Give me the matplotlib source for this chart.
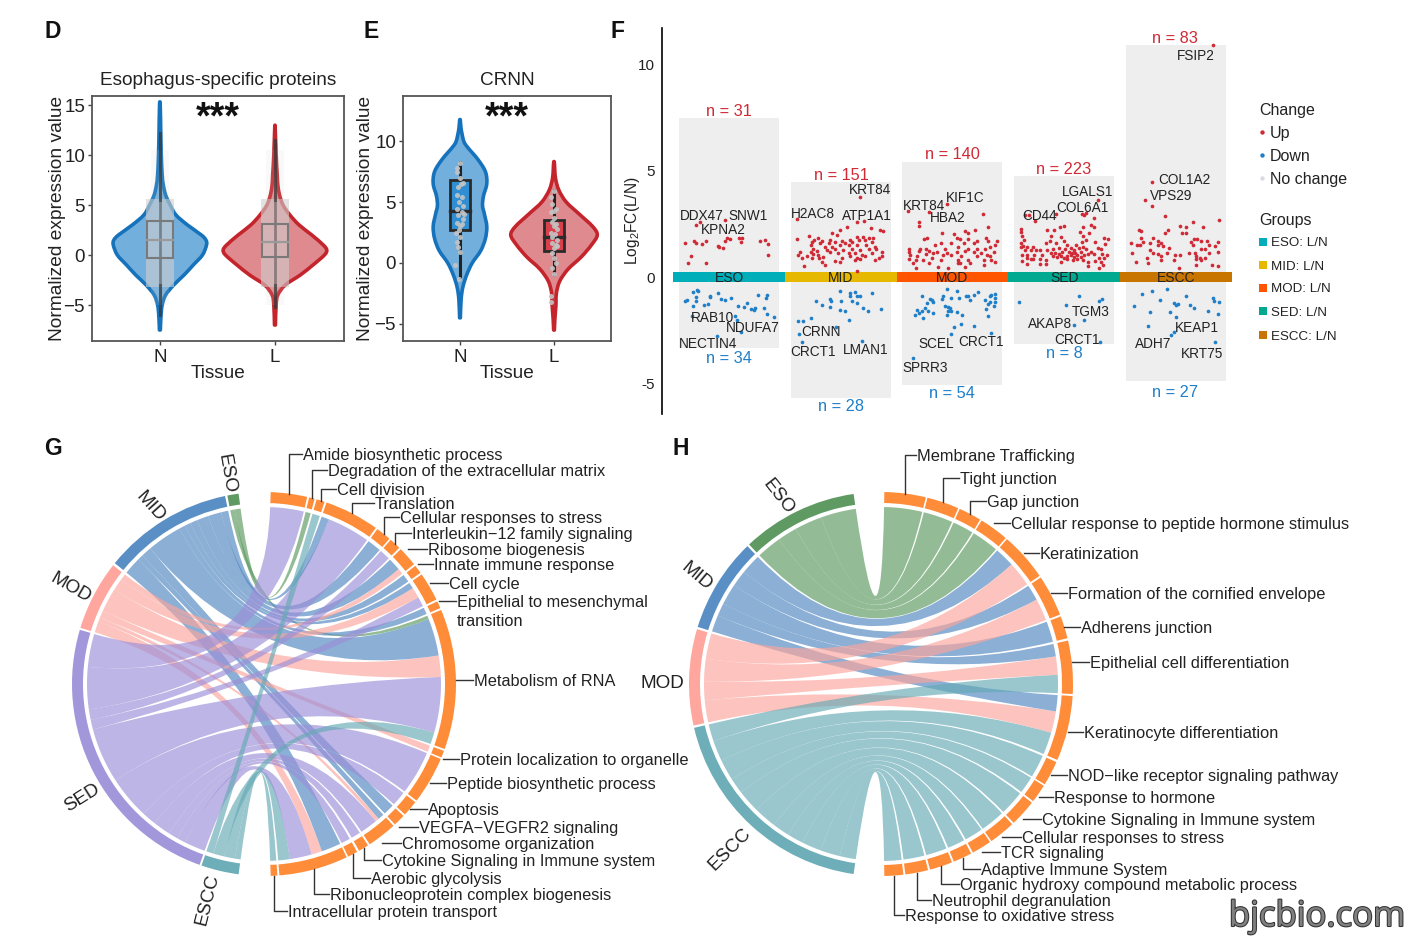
import numpy as np
import matplotlib
matplotlib.use("Agg")
import matplotlib.pyplot as plt
from matplotlib.path import Path
from matplotlib.patches import PathPatch, Wedge, Rectangle
import matplotlib.patheffects as pe

plt.rcParams['font.family'] = ['Liberation Sans', 'DejaVu Sans']
plt.rcParams['mathtext.default'] = 'regular'
W, H = 1415, 942
TXT = '#222222'
DY = 1.5  # text centre offset

# ---------- Panel D / E data ----------
d_n_y = [-7.5,-6,-5,-4,-3,-2,-1,0,1,1.5,2,3,4,5,6,7,8,10,12,15]
d_n_w = [.004,.01,.02,.05,.12,.21,.29,.37,.405,.40,.36,.24,.14,.09,.05,.03,.02,.012,.008,.003]
d_l_y = [-7,-5,-4,-3,-2,-1,0,.5,1,2,3,4,5,6,7,8,10,12.7]
d_l_w = [.004,.01,.025,.09,.22,.33,.43,.45,.42,.32,.21,.13,.07,.04,.025,.02,.01,.002]
e_n_y = [-4.5,-3,-2,-1,0,1,2,3,4,4.7,5.5,6.5,7.5,8.5,9.5,10,11,11.7]
e_n_w = [.004,.012,.03,.07,.13,.22,.27,.285,.26,.24,.25,.285,.27,.19,.08,.04,.012,.004]
e_l_y = [-5.5,-4.5,-3.5,-2.5,-1.5,-.5,.5,1.5,2.3,3,4,5,6,7,8.2]
e_l_w = [.004,.01,.02,.025,.06,.15,.29,.40,.46,.41,.27,.13,.05,.015,.004]
d_box = {'N': (-0.3, 1.5, 3.4, -6.0, 12.2), 'L': (-0.2, 1.3, 3.1, -5.2, 11.5)}
e_box = {'N': (2.7, 4.3, 6.8, -1.2, 8.3), 'L': (1.0, 2.1, 3.5, -1.0, 6.0)}
e_n_dots = [(0,8.2),(-.03,7.8),(-.03,7.5),(0,7),(.01,6.5),(.03,6.6),(-.02,6.2),(-.03,5.6),(.02,5.4),(-.01,5),
            (.03,4.7),(-.03,4.4),(.02,4.2),(-.02,3.9),(.03,3.6),(-.03,3.3),(0,3),(-.01,2.7),(-.04,2.5),(0,2.1),
            (-.03,1.7),(-.02,1.3),(0,.9),(-.05,-.2),(-.01,-1.3),(.04,4),(.02,3.2)]
e_l_dots = [(0,5.9),(-.03,5.4),(-.02,4.8),(0,4.3),(-.03,4.2),(.02,4.4),(0,3.7),(-.02,3.4),(.02,3.2),(0,3),
            (.03,2.8),(-.03,2.5),(.01,2.4),(-.02,2.1),(.03,1.9),(-.02,1.6),(.02,1.5),(0,1.2),(.03,1.4),(-.02,.8),
            (0,.4),(.02,0),(-.02,-.4),(0,-.9),(-.03,-2.7),(-.03,-3.2)]

# ---------- Panel F data ----------
f_groups = ['ESO','MID','MOD','SED','ESCC']
f_band_colors = ['#00aeba','#e6b800','#ff5500','#00a98f','#c87500']
f_top = [7.45,4.45,5.4,4.75,10.9]
f_bot = [-3.35,-5.7,-5.05,-3.15,-4.9]
eso_up = [(-.39,1.61),(-.31,1.69),(-.30,1.58),(-.30,2.47),(-.26,2.58),(-.24,1.55),(-.21,1.69),(-.04,2.69),(-.02,1.86),(-.04,1.70),
          (.01,1.80),(-.10,1.45),(-.09,1.42),(-.05,1.36),(.09,1.86),(.12,1.86),(.11,1.63),(.28,1.70),(.32,1.73),(.35,1.55),
          (.35,1.06),(-.34,1.0),(-.37,.64),(-.21,.64)]
mid_up = [(.17,3.77),(-.39,2.75),(.15,2.59),(.21,2.64),(.06,2.36),(.27,2.31),(.35,2.2),(.38,2.17),(-.01,2.2),(-.03,2.0),
          (-.08,2.05),(-.28,1.92),(-.39,1.81),(-.2,1.86),(-.24,1.73),(-.26,1.66),(-.17,1.7),(-.095,1.73),(.01,1.68),(.085,1.75),
          (.145,1.89),(.2,1.9),(.25,1.85),(.29,1.85),(-.27,1.5),(-.185,1.58),(-.105,1.58),(-.05,1.66),(.04,1.6),(.10,1.66),
          (.165,1.73),(.22,1.73),(.28,1.66),(-.245,1.34),(-.14,1.42),(-.08,1.42),(-.005,1.5),(.07,1.5),(.145,1.5),(.23,1.5),
          (.31,1.42),(-.36,1.19),(-.27,1.19),(-.215,1.22),(-.125,1.27),(-.055,1.3),(.025,1.27),(.10,1.31),(.17,1.27),(.25,1.3),
          (.32,1.34),(-.38,1.03),(-.30,.98),(-.245,1.08),(-.2,1.03),(-.095,1.19),(-.02,1.14),(.07,1.14),(.13,1.11),(.19,1.03),
          (.28,1.11),(.37,1.19),(-.35,.875),(-.26,.92),(-.19,.875),(-.155,.95),(.01,.875),(.085,.98),(.145,.875),(.22,.98),
          (.34,.92),(.37,.98),(-.17,.72),(-.05,.75),(-.005,.72),(.13,.8),(.17,.83),(.31,.8),(-.33,.52),(-.145,.56),(.145,.31)]
mod_up = [(-.40,3.11),(-.21,3.06),(-.05,3.42),(.27,2.98),(-.30,2.59),(-.30,2.39),(.32,2.33),(.2,2.23),(.11,2.16),(.14,2.05),
          (-.09,2.09),(.01,2.02),(.04,1.86),(.07,1.81),(-.23,1.86),(-.25,1.81),(.30,1.86),(.40,1.7),(.14,1.77),(.22,1.69),
          (.32,1.69),(-.1,1.58),(-.01,1.58),(.1,1.58),(.19,1.58),(.38,1.5),(-.16,1.5),(-.39,1.34),(-.29,1.34),(-.24,1.31),
          (-.07,1.34),(.05,1.42),(.14,1.34),(.22,1.34),(.29,1.34),(.34,1.42),(-.385,1.19),(-.3,1.22),(-.21,1.23),(-.14,1.19),
          (-.05,1.14),(.04,1.19),(.11,1.23),(.19,1.19),(.26,1.11),(.37,1.19),(-.38,1.03),(-.32,.98),(-.24,1.08),(-.17,1.11),
          (-.08,1.03),(-.01,1.03),(.08,.98),(.22,.98),(.31,1.03),(.34,.98),(-.39,.83),(-.33,.8),(-.26,.8),(-.185,.875),
          (-.1,.8),(.05,.8),(.14,.8),(.28,.8),(.35,.8),(.38,.72),(-.35,.64),(-.21,.67),(.07,.64),(.16,.64),
          (.28,.56),(-.325,.44),(-.125,.48),(-.035,.45),(.05,.67),(.11,.48)]
sed_up = [(-.35,2.94),(-.31,2.94),(-.26,2.63),(-.07,2.98),(.16,2.98),(.2,3.0),(.18,2.9),(.30,3.6),(.27,2.78),(.24,2.44),
          (0,2.41),(-.04,2.33),(-.09,2.23),(-.15,2.23),(-.39,2.28),(.17,2.33),(.27,2.36),(-.39,2.1),(-.38,1.95),(-.36,1.75),
          (-.39,1.6),(-.37,1.45),(-.39,1.4),(-.33,1.4),(-.28,1.4),(-.35,1.25),(-.3,1.25),(-.25,1.25),(-.38,1.05),(-.33,1.05),
          (-.27,1.05),(-.22,1.25),(-.2,1.05),(-.33,.9),(-.28,.85),(-.22,.85),(-.16,1.6),(-.12,1.95),(-.13,1.7),(-.07,1.6),
          (-.03,1.9),(0,1.7),(.03,1.5),(-.05,1.35),(-.1,1.3),(-.15,1.25),(-.12,1.15),(-.08,1.15),(-.05,1.1),(-.02,1.2),
          (.01,1.3),(.04,1.2),(.06,1.35),(.09,1.25),(.11,1.5),(.13,1.35),(.15,1.2),(.17,1.4),(.2,1.3),(-.1,1.0),
          (-.06,.95),(-.03,1.0),(0,.9),(.03,1.0),(.06,1.05),(.09,.95),(.12,1.05),(.15,.95),(.18,1.05),(.21,1.1),
          (.03,.85),(.08,.8),(.12,.85),(.17,.8),(.1,1.15),(.07,1.15),(.14,2.1),(.17,1.95),(.2,1.75),(.22,2.05),
          (.16,1.65),(.28,1.65),(.3,1.35),(.33,1.3),(.36,1.85),(.39,1.8),(.37,1.55),(.34,1.1),(.38,1.05),(.31,.9),
          (.36,.9),(.28,.75),(.33,.7),(.35,.55),(.31,.45),(.24,1.2),(.27,1.1),(.21,.7),(.21,.5),(-.3,.85),
          (-.38,.75),(-.33,.6),(-.22,.6),(-.16,.8),(-.03,.7),(-.16,.6)]
escc_up = [(.33,10.88),(-.21,4.47),(-.28,3.61),(-.21,3.34),(-.10,2.87),(.39,2.67),(.155,2.59),(.04,2.41),(.24,2.33),(.095,2.36),
           (-.33,2.2),(-.31,2.17),(-.07,2.23),(-.1,2.09),(.095,2.09),(.06,2.05),(-.31,1.84),(-.40,1.58),(-.35,1.5),(-.32,1.5),
           (-.29,1.66),(-.23,1.62),(-.2,1.84),(-.16,1.7),(-.13,1.62),(-.16,1.5),(-.11,1.45),(-.06,1.39),(-.39,1.14),(-.23,1.27),
           (-.2,1.14),(-.16,1.08),(-.13,1.0),(-.08,1.14),(-.01,1.06),(.04,1.06),(.12,1.14),(.14,1.66),(.16,1.81),(.19,1.81),
           (.23,1.7),(.28,1.7),(.155,1.5),(.23,1.34),(.26,1.31),(.30,1.5),(.38,1.66),(.35,1.45),(.38,1.19),(.17,1.11),
           (.30,1.11),(.185,.98),(.23,.8),(.26,.875),(.185,.83),(-.02,.8),(-.36,.72),(-.26,.875),(-.25,.67),(-.13,.8),
           (.185,.59),(.32,.59),(.38,.52),(.03,.41),(.215,.875)]
eso_dn = [(-.29,-.59),(-.28,-.67),(-.32,-.72),(-.30,-.94),(-.38,-1.06),(-.39,-1.14),(-.30,-1.14),(-.32,-1.38),(-.17,-.875),(-.17,-.94),
          (-.10,-.75),(-.07,-1.03),(-.04,-1.09),(.02,-.98),(-.22,-1.3),(-.19,-1.27),(.08,-1.38),(.13,-1.41),(.16,-1.22),(.20,-1.5),
          (.22,-1.56),(.23,-1.45),(.31,-1.45),(.34,-1.72),(.40,-1.88),(.26,-.83),(.34,-.83),(.33,-.98),(-.33,-1.81),(.05,-1.84),
          (.07,-2.0),(.11,-2.58),(-.11,-2.75)]
mid_dn = [(-.005,-.63),(.08,-.75),(.08,-.91),(.13,-.72),(.145,-.875),(.17,-.91),(.28,-.75),(-.22,-1.14),(-.17,-1.3),(-.095,-1.03),
          (-.09,-1.14),(-.10,-1.41),(0,-1.14),(.10,-1.14),(.145,-1.22),(-.01,-1.53),(.04,-1.58),(.2,-1.45),(.24,-1.61),(.36,-1.5),
          (-.38,-2.08),(-.34,-2.08),(-.27,-1.92),(.07,-2.0),(-.04,-2.34),(-.37,-2.67),(-.35,-3.05),(.19,-3.02)]
mod_dn = [(-.05,-.56),(.04,-.63),(-.275,-.875),(-.08,-.91),(-.095,-1.02),(-.01,-1.0),(.06,-1.0),(.12,-.875),(.14,-.91),(.19,-.83),
          (.23,-.72),(.35,-.83),(.38,-.78),(.34,-.875),(.29,-1.06),(.38,-.98),(-.2,-1.03),(-.185,-1.09),(-.17,-1.19),(.16,-1.09),
          (.38,-1.19),(.37,-1.38),(.34,-1.19),(.32,-1.27),(.30,-1.5),(-.245,-1.45),(-.23,-1.22),(-.32,-1.53),(-.275,-1.61),(-.335,-1.8),
          (-.30,-1.69),(-.215,-1.61),(-.17,-1.69),(-.265,-1.92),(-.07,-1.38),(-.035,-1.41),(-.02,-1.45),(-.01,-1.61),(-.05,-1.77),(-.035,-1.61),
          (.04,-1.66),(.085,-1.77),(.315,-1.84),(.075,-2.19),(.19,-2.28),(.01,-2.36),(-.01,-2.66),(.35,-2.63),(-.35,-3.8)]
sed_dn = [(-.40,-1.15),(.13,-.89),(.02,-1.33),(.31,-1.1),(.34,-1.05),(.175,-2.0),(.09,-2.23),(.32,-3.03)]
escc_dn = [(-.30,-.78),(-.21,-.66),(-.08,-.55),(-.14,-1.07),(-.37,-1.38),(-.23,-1.62),(-.25,-2.28),(-.02,-1.22),(0,-1.29),(.02,-1.26),
           (.09,-.9),(-.05,-1.62),(0,-1.88),(.13,-1.33),(.16,-1.44),(.33,-.97),(.34,-1.1),(.39,-1.18),(.29,-1.57),(.38,-1.73),
           (-.02,-2.59),(-.04,-2.7),(.35,-3.06)]
f_up = [eso_up, mid_up, mod_up, sed_up, escc_up]
f_dn = [eso_dn, mid_dn, mod_dn, sed_dn, escc_dn]
f_n_up = ['n = 31','n = 151','n = 140','n = 223','n = 83']
f_n_dn = ['n = 34','n = 28','n = 54','n = 8','n = 27']
f_genes = [('DDX47',702,214),('SNW1',748,214),('KPNA2',723,229),('RAB10',712,316),('NDUFA7',753,327),('NECTIN4',708,343),
           ('H2AC8',813,212),('KRT84',870,189),('ATP1A1',867,214),('CRNN',821,331),('CRCT1',813,351),('LMAN1',866,349),
           ('KRT84',924,204),('KIF1C',965,197),('HBA2',948,216),('SCEL',936,342),('CRCT1',981,341),('SPRR3',925,366),
           ('LGALS1',1088,191),('COL6A1',1082,207),('CD44',1040,215),('TGM3',1091,311),('AKAP8',1050,323),('CRCT1',1077,338),
           ('FSIP2',1196,55),('COL1A2',1184,178),('VPS29',1171,195),('KEAP1',1197,327),('ADH7',1153,342),('KRT75',1202,352)]

# ---------- Chord data ----------
TRACK = {'ESO':'#5f9a63','MID':'#5a8fc6','MOD':'#ffa79f','SED':'#a397dc','ESCC':'#6eaeb8'}
LINK = {'ESO':'#5c9a60','MID':'#4f86c0','MOD':'#fca59d','SED':'#9b8fd8','ESCC':'#66aab5'}
ORANGE = '#ff8c38'
g_left = {'ESCC':(187.6,199.0),'SED':(199.6,286.4),'MOD':(287.0,308.2),'MID':(309.0,348.3),'ESO':(349.0,352.4)}
g_terms = ['Amide biosynthetic process','Degradation of the extracellular matrix','Cell division','Translation',
           'Cellular responses to stress','Interleukin\u221212 family signaling','Ribosome biogenesis','Innate immune response',
           'Cell cycle','Epithelial to mesenchymal','Metabolism of RNA','Protein localization to organelle',
           'Peptide biosynthetic process','Apoptosis','VEGFA\u2212VEGFR2 signaling','Chromosome organization',
           'Cytokine Signaling in Immune system','Aerobic glycolysis','Ribonucleoprotein complex biogenesis','Intracellular protein transport']
g_start = [2,13.6,15.9,19,36.2,41.3,45.4,52,55.2,64.5,67.3,110.4,113,128,133.4,137.6,147.2,151,154.5,176]
g_end = [13,15.3,18.4,35.6,40.8,44.8,51.4,54.6,63.9,66.7,109.8,112.5,127.4,132.8,137,146.6,150.3,154,175.4,178]
g_links = [[('SED',11)],[('ESO',1.7)],[('ESCC',2.5)],[('MID',2.5),('SED',14)],[('MID',4.6)],[('SED',3.5)],
           [('MID',4.1),('MOD',1.9)],[('MID',2.6)],[('MID',2),('MOD',3.5),('SED',3.2)],[('MID',2.2)],
           [('ESO',1.2),('MID',12.2),('MOD',7),('SED',18.2),('ESCC',3.9)],[('MOD',2.1)],[('SED',14.4)],[('SED',4.8)],[('MID',3.6)],
           [('MID',2),('MOD',1.2),('SED',5.8)],[('SED',3.1)],[('SED',3)],[('MID',6.1),('MOD',3.3),('SED',6.9),('ESCC',3.6)],[('ESCC',2)]]
g_tx = [303,328,337,375,400,412,428,434,449,457,474,460,447,428,419,402,382,371,330,288]
g_ty = [454,470,489,503,517,533,549,564,583,601,680,759,783,809,827,843,860,878,894,911]
g_sect_labels = [('ESO',226,472,-80),('MID',150,505,-48),('MOD',71,587,-30),('SED',82,796,32),('ESCC',207,898,76)]

h_left = {'ESCC':(188.2,256.8),'MOD':(257.5,286.6),'MID':(287.3,315.9),'ESO':(316.6,351.8)}
h_terms = ['Membrane Trafficking','Tight junction','Gap junction','Cellular response to peptide hormone stimulus','Keratinization',
           'Formation of the cornified envelope','Adherens junction','Epithelial cell differentiation','Keratinocyte differentiation',
           'NOD\u2212like receptor signaling pathway','Response to hormone','Cytokine Signaling in Immune system','Cellular responses to stress',
           'TCR signaling','Adaptive Immune System','Organic hydroxy compound metabolic process','Neutrophil degranulation','Response to oxidative stress']
h_start = [1,14,24.2,31.6,41,56.3,69.4,76.9,93.6,114,122,128.2,136.9,145.4,152,158.3,165.8,173.3]
h_end = [13.5,23.7,31.1,40.5,55.7,68.8,76.2,93,113.3,121.5,127.6,136.3,144.9,151.4,157.7,165.2,172.7,179]
h_links = [[('ESO',12.5)],[('ESO',9.7)],[('ESO',6.9)],[('ESO',8.9)],[('MID',6.5),('MOD',8.2)],[('MID',5.2),('MOD',7.3)],[('MID',6.8)],
           [('MID',4.1),('MOD',6),('ESCC',6)],[('MID',5.3),('MOD',7),('ESCC',7.3)],[('ESCC',7.5)],[('ESCC',5.6)],[('ESCC',8.1)],[('ESCC',8)],
           [('ESCC',6)],[('ESCC',5.7)],[('ESCC',6.9)],[('ESCC',6.9)],[('ESCC',5.7)]]
h_tx = [917,960,987,1011,1040,1068,1081,1090,1084,1068,1054,1042,1022,1001,981,960,932,905]
h_ty = [455,478,501,523,553,593,627,662,732,775,797,819,837,852,869,884,900,915]
h_sect_labels = [('ESO',778,495,-52),('MID',697,575,-40),('MOD',662,682,0),('ESCC',730,848,45)]

# ---------- helpers ----------
fig = plt.figure(figsize=(W/100, H/100), dpi=100, facecolor='white')

def px_axes(l, t, r, b, **kw):
    return fig.add_axes([l/W, 1-b/H, (r-l)/W, (b-t)/H], **kw)

def smooth_side(p):
    p = np.asarray(p, float)
    verts, codes = [p[0]], [Path.MOVETO]
    for i in range(len(p)-1):
        p0 = p[max(i-1,0)]; p1 = p[i]; p2 = p[i+1]; p3 = p[min(i+2,len(p)-1)]
        verts += [p1+(p2-p0)/6, p2-(p3-p1)/6, p2]
        codes += [Path.CURVE4]*3
    return verts, codes

def violin(ax, x0, ys, ws, edge, fill):
    right = [(x0+w, y) for y, w in zip(ys, ws)]
    left = [(x0-w, y) for y, w in zip(ys[::-1], ws[::-1])]
    v, c = smooth_side(right + left)
    v.append(v[0]); c.append(Path.CLOSEPOLY)
    ax.add_patch(PathPatch(Path(v, c), facecolor=fill, edgecolor=edge, lw=2.6, joinstyle='round', zorder=2))

def style_box(ax, xl, yl, yt):
    ax.set_xlim(*xl); ax.set_ylim(*yl)
    ax.set_yticks(yt); ax.set_xticks([0,1]); ax.set_xticklabels(['N','L'])
    ax.tick_params(labelsize=13.5, length=3, width=1, color='#444444', pad=2, labelcolor=TXT)
    ax.tick_params(axis='x', pad=3)
    for s in ax.spines.values():
        s.set_color('#555555'); s.set_linewidth(1.3)

# ---------- D ----------
axd = px_axes(92,96,344,341)
style_box(axd, (-.59,1.6), (-8.6,15.9), [-5,0,5,10,15])
axd.set_yticklabels(['\u22125','0','5','10','15'])
axd.set_title('Esophagus-specific proteins', fontsize=13.7, color=TXT, pad=8)
violin(axd, 0, d_n_y, d_n_w, '#1673bb', '#73afdc')
violin(axd, 1, d_l_y, d_l_w, '#c4252d', '#de8a8e')
for x0, key in [(0,'N'),(1,'L')]:
    q1, med, q3, lo, hi = d_box[key]
    axd.fill_betweenx([-3.2,5.6], x0-.125, x0+.125, color='#cfcfcf', alpha=.6, lw=0, zorder=3)
    axd.fill_betweenx([5.6,10.5], x0-.08, x0+.08, color='#d5d5d5', alpha=.14, lw=0, zorder=3)
    axd.fill_betweenx([-5,-3.2], x0-.08, x0+.08, color='#d5d5d5', alpha=.14, lw=0, zorder=3)
    axd.plot([x0,x0],[lo,hi], color='#444444', lw=2.0, alpha=.5, solid_capstyle='round', zorder=4)
    axd.plot([x0,x0],[5.5,hi], color='#333333', lw=2.2, alpha=.55, zorder=4)
    axd.plot([x0,x0],[lo,-3.0], color='#333333', lw=2.2, alpha=.55, zorder=4)
    axd.add_patch(Rectangle((x0-.112,q1), .224, q3-q1, fc='none', ec='#7a7a7a', lw=1.5, zorder=5))
    axd.plot([x0-.112,x0+.112],[med,med], color='#9a9a9a', lw=1.6, zorder=5)

# ---------- E ----------
axe = px_axes(403,96,611,341)
style_box(axe, (-.606,1.606), (-6.4,13.7), [-5,0,5,10])
axe.set_yticklabels(['\u22125','0','5','10'])
axe.set_title('CRNN', fontsize=13.7, color=TXT, pad=8)
violin(axe, 0, e_n_y, e_n_w, '#1673bb', '#73afdc')
violin(axe, 1, e_l_y, e_l_w, '#c4252d', '#de8a8e')
for x0, key, fc, dots in [(0,'N','#2f8fd2',e_n_dots),(1,'L','#d8404c',e_l_dots)]:
    q1, med, q3, lo, hi = e_box[key]
    axe.plot([x0,x0],[lo,hi], color='#222222', lw=2.2, zorder=3)
    axe.add_patch(Rectangle((x0-.11,q1), .22, q3-q1, fc=fc, ec='#2a2a2a', lw=2, zorder=3))
    axe.plot([x0-.11,x0+.11],[med,med], color='#2a2a2a', lw=2.4, zorder=4)
    axe.scatter([x0+d[0] for d in dots],[d[1] for d in dots], s=13, color='#c4c4c4', alpha=.9, lw=0, zorder=5)

# ---------- F ----------
axf = px_axes(662,28,1240,414)
axf.set_xlim(-.6,4.575); axf.set_ylim(-6.43,11.7)
for s in ['top','right','bottom']:
    axf.spines[s].set_visible(False)
axf.spines['left'].set_linewidth(1.2)
axf.set_xticks([]); axf.set_yticks([-5,0,5,10]); axf.set_yticklabels(['-5','0','5','10'])
axf.tick_params(axis='y', labelsize=11, length=0, pad=5, labelcolor=TXT)
for i in range(5):
    axf.bar(i, f_top[i]-f_bot[i], width=.895, bottom=f_bot[i], color='#eeeeee', lw=0, zorder=1)
    axf.bar(i, .44, width=1.0, bottom=-.22, color=f_band_colors[i], lw=0, zorder=3)
    axf.text(i, -.03, f_groups[i], ha='center', va='center', fontsize=10, color=TXT, zorder=6)
    axf.scatter([i+p[0] for p in f_up[i]], [p[1] for p in f_up[i]], s=7, color='#cf2a35', lw=0, zorder=4)
    axf.scatter([i+p[0] for p in f_dn[i]], [p[1] for p in f_dn[i]], s=7, color='#1f7fc9', lw=0, zorder=4)

# ---------- chords ----------
def chord(cx, cy, left, terms, starts, ends, links):
    ax = px_axes(cx-200, cy-200, cx+200, cy+200)
    ax.set_xlim(-200,200); ax.set_ylim(-200,200); ax.axis('off')
    R_out, R_in, R_link = 192, 181, 177
    for g, (a, b) in left.items():
        ax.add_patch(Wedge((0,0), R_out, 90-b, 90-a, width=R_out-R_in, fc=TRACK[g], ec='none', zorder=3))
    for a, b in zip(starts, ends):
        ax.add_patch(Wedge((0,0), R_out, 90-b, 90-a, width=R_out-R_in, fc=ORANGE, ec='none', zorder=3))
    totals = {g: 0. for g in left}
    for tl in links:
        for g, w in tl:
            totals[g] += w
    cursor = {g: left[g][0] for g in left}
    ribbons = []
    for a, b, tl in list(zip(starts, ends, links))[::-1]:
        s = sum(w for _, w in tl)
        hi = b
        for g, w in tl[::-1]:
            lo = hi - (b-a)*w/s
            l0 = cursor[g]
            l1 = l0 + (left[g][1]-left[g][0])*w/totals[g]
            cursor[g] = l1
            ribbons.append((g, l0, l1, lo, hi))
            hi = lo
    def pt(c):
        t = np.radians(c)
        return (R_link*np.sin(t), R_link*np.cos(t))
    for g, l0, l1, lo, hi in ribbons:
        v = [pt(c) for c in np.linspace(l0, l1, 24)]
        cd = [Path.MOVETO] + [Path.LINETO]*23
        v += [(0,0), pt(lo)]; cd += [Path.CURVE3, Path.CURVE3]
        v += [pt(c) for c in np.linspace(lo, hi, 24)[1:]]; cd += [Path.LINETO]*23
        v += [(0,0), pt(l0)]; cd += [Path.CURVE3, Path.CURVE3]
        ax.add_patch(PathPatch(Path(v, cd), fc=LINK[g], ec='none', alpha=.66, zorder=2))
    return ax

chord(264, 684, g_left, g_terms, g_start, g_end, g_links)
chord(881, 684, h_left, h_terms, h_start, h_end, h_links)

# ---------- overlay ----------
ov = fig.add_axes([0,0,1,1], zorder=20)
ov.set_xlim(0,W); ov.set_ylim(H,0); ov.axis('off'); ov.patch.set_alpha(0)

for t, x, y in [('D',53,30),('E',371,30),('F',618,30),('G',53,447),('H',681,447)]:
    ov.text(x, y+DY, t, fontsize=16.5, fontweight='bold', ha='center', va='center', color='#111111')

for x in (57, 365):
    ov.text(x, 218, 'Normalized expression value', rotation=90, fontsize=13.8, ha='center', va='center', color=TXT)
for x in (218, 507):
    ov.text(x, 372+DY, 'Tissue', fontsize=13.7, ha='center', va='center', color=TXT)
    ov.text(x, 118, '***', fontsize=27, fontweight='bold', ha='center', va='center', color='#111111')
ov.text(633, 221, 'Log$_2$FC(L/N)', rotation=90, fontsize=11.2, ha='center', va='center', color=TXT)

up_pos = [(729,110),(841,174),(952,153),(1064,168),(1175,37)]
dn_pos = [(729,357),(841,405),(952,392),(1064,352),(1175,391)]
for t, (x, y) in zip(f_n_up, up_pos):
    ov.text(x, y+DY, t, fontsize=11.8, color='#cf2a35', ha='center', va='center')
for t, (x, y) in zip(f_n_dn, dn_pos):
    ov.text(x, y+DY, t, fontsize=11.8, color='#1f7fc9', ha='center', va='center')
for t, x, y in f_genes:
    ov.text(x, y+DY, t, fontsize=9.8, color=TXT, ha='center', va='center')

ov.text(1259, 109+DY, 'Change', fontsize=11.5, color=TXT, va='center')
for t, c, y in [('Up','#cf2a35',132),('Down','#1f7fc9',155),('No change','#d8dce2',178)]:
    ov.scatter([1262],[y], s=10, color=c, lw=0)
    ov.text(1270, y+DY, t, fontsize=11.5, color=TXT, va='center')
ov.text(1259, 219+DY, 'Groups', fontsize=11.5, color=TXT, va='center')
for g, c, y in zip(f_groups, f_band_colors, [242,265,288,311,335]):
    ov.add_patch(Rectangle((1259,y-4), 8, 8, fc=c, ec='none'))
    ov.text(1271, y+DY, f'{g}: L/N', fontsize=9.6, color=TXT, va='center')

def leaders(cx, cy, terms, starts, ends, txs, tys):
    for t, a, b, tx, ty in zip(terms, starts, ends, txs, tys):
        m = np.radians((a+b)/2)
        ex, ey = cx+192*np.sin(m), cy-192*np.cos(m)
        if abs(ey-ty) < 9:
            ov.plot([tx-1, ex], [ty, ty], color='#333333', lw=1)
        else:
            ov.plot([tx-1, ex, ex], [ty, ty, ey], color='#333333', lw=1)
        ov.text(tx, ty+DY, t, fontsize=11.8, color=TXT, ha='left', va='center')

leaders(264, 684, g_terms, g_start, g_end, g_tx, g_ty)
leaders(881, 684, h_terms, h_start, h_end, h_tx, h_ty)
ov.text(457, 620+DY, 'transition', fontsize=11.8, color=TXT, ha='left', va='center')
for t, x, y, r in g_sect_labels + h_sect_labels:
    ov.text(x, y+DY, t, fontsize=13.6, rotation=r, color=TXT, ha='center', va='center')

ov.text(1317, 917, 'bjcbio.com', fontsize=25, family='Open Sans', ha='center', va='center', color='#808080',
        path_effects=[pe.withStroke(linewidth=1.5, foreground='#333333')])

fig.savefig('out.png', dpi=100, facecolor='white')
